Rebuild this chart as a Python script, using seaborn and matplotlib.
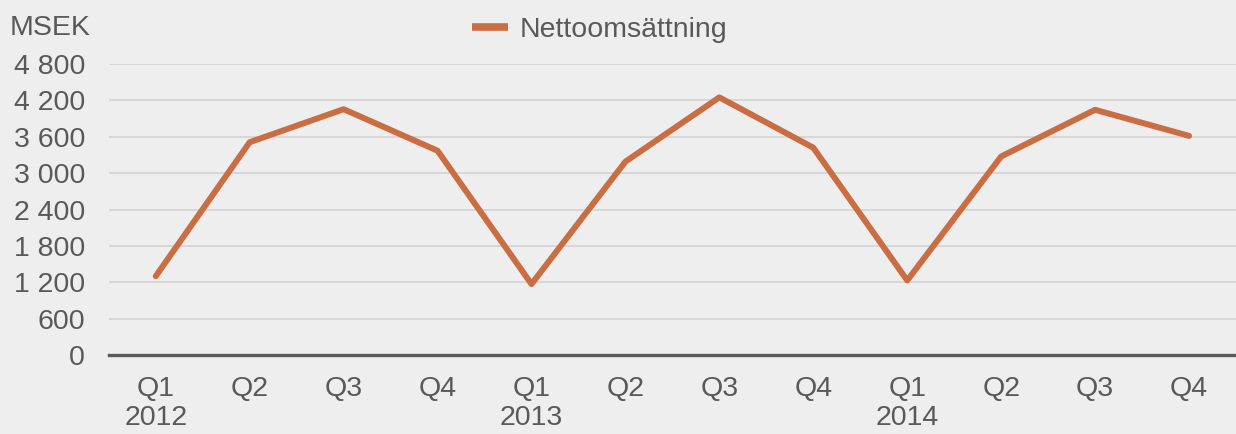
import pandas as pd
import numpy as np
import matplotlib
matplotlib.use('Agg')
import matplotlib.pyplot as plt
import seaborn as sns

quarters = ['Q1', 'Q2', 'Q3', 'Q4'] * 3
years    = ['2012', '', '', '', '2013', '', '', '', '2014', '', '', '']
values   = [1300, 3510, 4055, 3370, 1170, 3190, 4250, 3420, 1230, 3275, 4045, 3615]
yticks   = [0, 600, 1200, 1800, 2400, 3000, 3600, 4200, 4800]

BG   = '#eeeeee'
TXT  = '#595959'
LINE = '#cb6d42'

labels = [f'{q}\n{y}' if y else q for q, y in zip(quarters, years)]
df = pd.DataFrame({'idx': np.arange(len(values)), 'value': values})

sns.set_style('white')
plt.rcParams['font.family'] = ['Liberation Sans', 'DejaVu Sans']

fig = plt.figure(figsize=(12.36, 4.34), dpi=100, facecolor=BG)
ax = fig.add_axes([0.088, 0.182, 0.912, 0.6705])
ax.set_facecolor(BG)

sns.lineplot(data=df, x='idx', y='value', ax=ax, color=LINE, lw=4.3,
             label='Nettoomsättning', legend=False)
ax.lines[0].set_solid_capstyle('round')

ax.set_xlim(-0.5, 11.5)
ax.set_ylim(0, 4800)
ax.set_yticks(yticks)
ax.set_yticklabels([f'{v:,}'.replace(',', ' ') for v in yticks])
ax.set_xticks(df['idx'])
ax.set_xticklabels(labels, linespacing=1.15)
ax.grid(axis='y', color='#d0d0d0', lw=1.1)
ax.set_axisbelow(True)
for s in ['top', 'right', 'left']:
    ax.spines[s].set_visible(False)
ax.spines['bottom'].set_color(TXT)
ax.spines['bottom'].set_linewidth(2.4)
ax.tick_params(axis='both', length=0, labelsize=20.5, colors=TXT)
ax.tick_params(axis='y', pad=17)
ax.tick_params(axis='x', pad=15)
ax.set_xlabel('')
ax.set_ylabel('')

fig.text(0.008, 0.935, 'MSEK', fontsize=20.5, color=TXT, va='center', ha='left')

h, l = ax.get_legend_handles_labels()
leg = fig.legend(h, l, loc='center', bbox_to_anchor=(0.485, 0.93), frameon=False,
                 fontsize=20.5, labelcolor=TXT, handlelength=1.25, handletextpad=0.4)
for ln in leg.get_lines():
    ln.set_linewidth(5.5)
    ln.set_solid_capstyle('butt')

plt.savefig('out.png', dpi=100, facecolor=BG)
plt.close()
